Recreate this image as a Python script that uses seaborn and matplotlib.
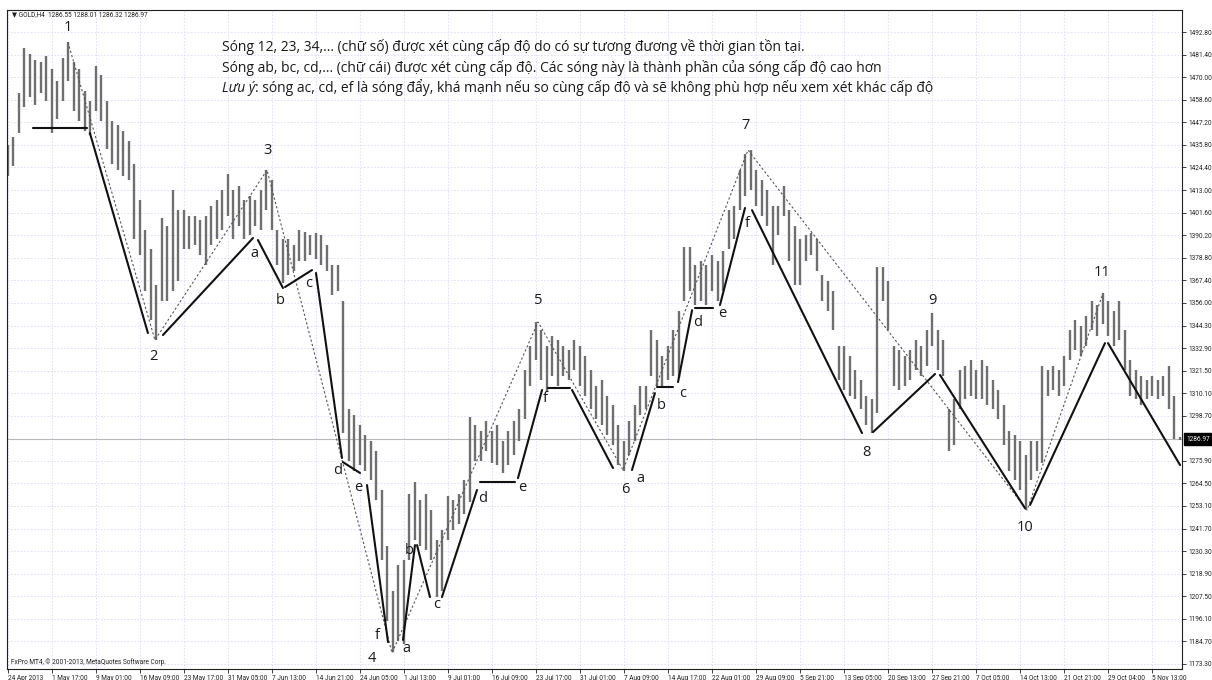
import numpy as np
import pandas as pd
import matplotlib
matplotlib.use("Agg")
import matplotlib.pyplot as plt
import matplotlib.transforms as mtransforms
import seaborn as sns

# GOLD, H4 — 24 Apr 2013 to 11 Nov 2013, one drawn bar for every 4 H4 bars
BAR_STEP = 4
LABEL_STEP = 32   # H4 bars between time-axis labels

bar_high = [1436, 1440, 1462, 1485, 1482, 1479, 1478, 1481, 1474, 1468,
            1480, 1488, 1478, 1474, 1463, 1458, 1476, 1471, 1458, 1448,
            1446, 1443, 1438, 1426, 1408, 1393, 1383, 1365, 1399, 1395,
            1413, 1403, 1403, 1400, 1400, 1398, 1400, 1405, 1408, 1413,
            1421, 1413, 1415, 1408, 1410, 1408, 1413, 1423, 1418, 1393,
            1388, 1388, 1385, 1393, 1392, 1390, 1391, 1390, 1385, 1375,
            1375, 1357, 1302, 1299, 1294, 1289, 1286, 1281, 1261, 1233,
            1210, 1223, 1226, 1259, 1265, 1256, 1259, 1251, 1236, 1241,
            1258, 1256, 1259, 1266, 1298, 1294, 1291, 1296, 1291, 1294,
            1286, 1291, 1296, 1302, 1322, 1334, 1346, 1342, 1334, 1339,
            1337, 1334, 1332, 1337, 1334, 1329, 1322, 1314, 1317, 1309,
            1304, 1294, 1286, 1296, 1304, 1314, 1314, 1342, 1337, 1329,
            1334, 1342, 1352, 1384, 1384, 1375, 1377, 1375, 1380, 1377,
            1382, 1403, 1405, 1423, 1431, 1433, 1423, 1418, 1413, 1405,
            1405, 1415, 1403, 1395, 1388, 1390, 1391, 1388, 1370, 1367,
            1362, 1334, 1334, 1329, 1322, 1317, 1309, 1307, 1374, 1374,
            1367, 1334, 1332, 1329, 1332, 1337, 1334, 1342, 1351, 1342,
            1337, 1302, 1307, 1322, 1324, 1327, 1322, 1327, 1324, 1317,
            1312, 1304, 1291, 1289, 1286, 1279, 1286, 1286, 1324, 1322,
            1324, 1322, 1329, 1342, 1347, 1344, 1349, 1357, 1355, 1361,
            1357, 1352, 1357, 1342, 1327, 1322, 1319, 1317, 1319, 1317,
            1319, 1324, 1309, 1288.01]
bar_low = [1420, 1425, 1442, 1455, 1460, 1456, 1462, 1458, 1442, 1449,
           1458, 1468, 1453, 1448, 1443, 1441, 1453, 1448, 1434, 1426,
           1423, 1420, 1418, 1388, 1380, 1362, 1347, 1337, 1357, 1357,
           1362, 1367, 1383, 1383, 1385, 1380, 1375, 1385, 1388, 1393,
           1400, 1388, 1395, 1388, 1390, 1395, 1393, 1403, 1393, 1375,
           1366, 1370, 1372, 1377, 1377, 1380, 1378, 1375, 1372, 1360,
           1362, 1290, 1276, 1271, 1274, 1271, 1266, 1256, 1226, 1195,
           1179, 1185, 1183, 1226, 1236, 1233, 1231, 1226, 1207, 1210,
           1236, 1241, 1244, 1249, 1255, 1276, 1276, 1281, 1275, 1274,
           1270, 1274, 1279, 1286, 1297, 1314, 1327, 1317, 1311, 1319,
           1314, 1319, 1317, 1322, 1314, 1309, 1302, 1297, 1294, 1289,
           1284, 1274, 1271, 1279, 1286, 1299, 1302, 1319, 1314, 1314,
           1317, 1319, 1318, 1357, 1362, 1355, 1357, 1355, 1362, 1357,
           1362, 1383, 1388, 1403, 1410, 1413, 1405, 1400, 1395, 1375,
           1390, 1400, 1377, 1365, 1365, 1377, 1380, 1372, 1357, 1352,
           1342, 1317, 1312, 1309, 1307, 1302, 1294, 1290, 1300, 1357,
           1342, 1314, 1312, 1314, 1317, 1322, 1319, 1324, 1334, 1322,
           1319, 1281, 1284, 1302, 1307, 1309, 1307, 1307, 1304, 1302,
           1297, 1284, 1271, 1266, 1261, 1251, 1266, 1271, 1275, 1309,
           1312, 1309, 1314, 1327, 1332, 1329, 1334, 1342, 1339, 1345,
           1339, 1334, 1337, 1322, 1309, 1307, 1304, 1307, 1309, 1307,
           1309, 1302, 1287, 1286.32]

last_bar = [1286.55, 1288.01, 1286.32, 1286.97]   # open, high, low, close

time_labels = ["24 Apr 2013", "1 May 17:00", "9 May 01:00", "16 May 09:00",
               "23 May 17:00", "31 May 05:00", "7 Jun 13:00", "14 Jun 21:00",
               "24 Jun 05:00", "1 Jul 13:00", "9 Jul 01:00", "16 Jul 09:00",
               "23 Jul 17:00", "31 Jul 01:00", "7 Aug 09:00", "14 Aug 17:00",
               "22 Aug 01:00", "29 Aug 09:00", "5 Sep 21:00", "13 Sep 05:00",
               "20 Sep 13:00", "27 Sep 21:00", "7 Oct 05:00", "14 Oct 13:00",
               "21 Oct 21:00", "29 Oct 04:00", "5 Nov 13:00"]

price_labels = [1492.80, 1481.40, 1470.00, 1458.60, 1447.20, 1435.80, 1424.40,
                1413.00, 1401.60, 1390.20, 1378.80, 1367.40, 1356.00, 1344.30,
                1332.90, 1321.50, 1310.10, 1298.70, 1275.90, 1264.50, 1253.10,
                1241.70, 1230.30, 1218.90, 1207.50, 1196.10, 1184.70, 1173.30]

# Major swing pivots (H4 bar number, price), joined by the dotted path
major_bar = [43.6, 106.9, 188.4, 279.3, 385.5, 447.3, 538.2, 741.1, 796.4]
major_price = [1487.8, 1337.1, 1423.1, 1178.7, 1346.2, 1271.3, 1433.2, 1251.0, 1360.8]

# Sub-wave legs (solid)
leg_start_bar = [18.2, 59.6, 112.7, 181.8, 201.5, 224.0, 243.6, 261.1, 287.3,
                 297.5, 315.6, 343.3, 370.9, 392.7, 410.2, 453.8, 472.0, 487.3,
                 499.6, 517.8, 541.1, 629.1, 677.8, 743.3, 800.0]
leg_start_price = [1444.4, 1441.8, 1339.6, 1387.7, 1363.9, 1371.0, 1275.3, 1263.7,
                   1185.3, 1233.3, 1207.0, 1265.2, 1267.2, 1312.8, 1311.8, 1271.3,
                   1313.3, 1315.8, 1353.2, 1354.8, 1402.8, 1290.5, 1319.4, 1253.6,
                   1335.5]
leg_end_bar = [57.5, 101.8, 178.2, 200.0, 221.1, 242.9, 256.0, 276.4, 296.0,
               306.9, 341.1, 368.7, 388.4, 408.7, 440.0, 470.5, 483.6, 497.5,
               512.7, 536.0, 621.1, 674.2, 739.6, 797.8, 852.4]
leg_end_price = [1444.4, 1340.6, 1388.7, 1363.4, 1372.5, 1277.4, 1269.8, 1184.2,
                 1233.3, 1207.0, 1261.2, 1265.2, 1311.8, 1312.8, 1272.3, 1310.2,
                 1313.3, 1352.2, 1353.2, 1403.9, 1290.0, 1319.9, 1252.0, 1335.5,
                 1273.8]

wave_numbers = ["1", "2", "3", "4", "5", "6", "7", "8", "9", "10", "11"]
wave_number_bar = [43.6, 105.5, 188.4, 264.7, 385.5, 448.7, 536.7, 624.0, 672.0, 739.6, 795.6]
wave_number_price = [1495.0, 1328.5, 1433.2, 1176.1, 1357.3, 1261.2, 1445.9, 1280.4, 1357.3, 1242.4, 1371.5]

wave_letters = ["a", "b", "c", "d", "e", "f", "a", "b", "c", "d", "e", "f",
                "a", "b", "c", "d", "e", "f"]
wave_letter_bar = [178.9, 197.8, 218.9, 240.0, 254.5, 268.4, 289.5, 291.6, 312.0,
                   345.5, 373.8, 390.5, 459.6, 474.9, 490.9, 501.8, 519.3, 537.5]
wave_letter_price = [1381.1, 1357.3, 1365.9, 1271.3, 1262.7, 1187.8, 1181.2, 1230.8,
                     1203.0, 1257.1, 1262.2, 1307.7, 1267.2, 1304.2, 1310.2, 1346.2,
                     1350.7, 1396.3]

note_lines = [
    "Sóng 12, 23, 34,... (chữ số) được xét cùng cấp độ do có sự tương đương về thời gian tồn tại.",
    "Sóng ab, bc, cd,... (chữ cái) được xét cùng cấp độ. Các sóng này là thành phần của sóng cấp độ cao hơn",
]
note_italic = "Lưu ý"
note_rest = ": sóng ac, cd, ef là sóng đẩy, khá mạnh nếu so cùng cấp độ và sẽ không phù hợp nếu xem xét khác cấp độ"

# ---------------------------------------------------------------------------
sns.set_theme(style="white")
plt.rcParams["font.family"] = ["Open Sans", "DejaVu Sans"]

W, H = 1212, 680
fig = plt.figure(figsize=(W / 100, H / 100), dpi=100)
fig.patch.set_facecolor("white")
ax = fig.add_axes([7 / W, 11 / H, 1175 / W, 659 / H])
ax.set_facecolor("white")

ax.set_xlim(-0.7, 853.8)
ax.set_ylim(1170.6, 1504.1)

# grid
grid_kw = dict(color="#dadcf1", lw=0.6, ls=(0, (2, 2)), zorder=0)
for k in range(len(time_labels)):
    ax.axvline(k * LABEL_STEP, **grid_kw)
for p in price_labels:
    ax.axhline(p, **grid_kw)

# price bars
bars = pd.DataFrame({"high": bar_high, "low": bar_low})
bars["bar"] = np.arange(len(bars)) * BAR_STEP
ax.vlines(bars["bar"], bars["low"], bars["high"], color="#6f6f6f", lw=1.7, zorder=2)

# current close line
ax.axhline(last_bar[3], color="#b8b8b8", lw=0.8, zorder=1)

# dotted major swings
major = pd.DataFrame({"bar": major_bar, "price": major_price})
sns.lineplot(data=major, x="bar", y="price", sort=False, estimator=None,
             color="#555555", lw=0.8, linestyle=(0, (2, 2)), ax=ax, zorder=3)

# solid sub-wave legs
legs = pd.DataFrame({
    "leg": np.repeat(np.arange(len(leg_start_bar)), 2),
    "bar": np.ravel(np.column_stack([leg_start_bar, leg_end_bar])),
    "price": np.ravel(np.column_stack([leg_start_price, leg_end_price])),
})
sns.lineplot(data=legs, x="bar", y="price", units="leg", estimator=None, sort=False,
             color="#111111", lw=1.5, ax=ax, zorder=4)

# wave labels
for t, xb, yp in zip(wave_numbers, wave_number_bar, wave_number_price):
    ax.text(xb, yp, t, ha="center", va="center", fontsize=10.5, color="#1a1a1a", zorder=5)
for t, xb, yp in zip(wave_letters, wave_letter_bar, wave_letter_price):
    ax.text(xb, yp, t, ha="center", va="center", fontsize=10.5, color="#1a1a1a", zorder=5)

# explanatory note
note_x = 222 / W
for i, line in enumerate(note_lines):
    fig.text(note_x, 1 - (47 + 20.5 * i) / H, line, ha="left", va="center",
             fontsize=10, color="#1a1a1a")
t_it = fig.text(note_x, 1 - (47 + 41) / H, note_italic, ha="left", va="center",
                fontsize=10, style="italic", color="#1a1a1a")
ax.annotate(note_rest, xy=(1, 0), xycoords=t_it, ha="left", va="bottom",
            fontsize=10, color="#1a1a1a", annotation_clip=False)

# axes styling
for s in ax.spines.values():
    s.set_color("#202020")
    s.set_linewidth(0.8)

small = dict(family=["Roboto", "DejaVu Sans"], size=4.7, color="#202020")
ax.yaxis.tick_right()
ax.set_yticks(price_labels)
ax.set_yticklabels([f"{p:.2f}" for p in price_labels], **small)
ax.set_xticks([k * LABEL_STEP for k in range(len(time_labels))])
ax.set_xticklabels(time_labels, ha="left", **small)
ax.tick_params(axis="y", which="both", direction="out", length=3, width=0.6,
               pad=1.5, colors="#202020", right=True, left=False)
ax.tick_params(axis="x", which="both", direction="out", length=3, width=0.6,
               pad=1.0, colors="#202020", bottom=True)
ax.set_xlabel("")
ax.set_ylabel("")

# close price marker on the scale
ytrans = mtransforms.blended_transform_factory(ax.transAxes, ax.transData)
ax.text(1.0035, last_bar[3], f"{last_bar[3]:.2f}", transform=ytrans, ha="left",
        va="center", color="white", family=["Roboto", "DejaVu Sans"], size=4.7,
        bbox=dict(boxstyle="square,pad=0.35", fc="black", ec="black"),
        clip_on=False, zorder=6)

# header and footer
ax.text(0.004, 0.9925,
        "▼ GOLD,H4  " + " ".join(f"{v:.2f}" for v in last_bar),
        transform=ax.transAxes, ha="left", va="center",
        family=["Roboto", "DejaVu Sans"], size=4.7, color="#202020")
ax.text(0.003, 0.0106, "FxPro MT4, © 2001-2013, MetaQuotes Software Corp.",
        transform=ax.transAxes, ha="left", va="center",
        family=["Roboto", "DejaVu Sans"], size=4.7, color="#202020")

fig.savefig("out.png", dpi=100, facecolor="white")
